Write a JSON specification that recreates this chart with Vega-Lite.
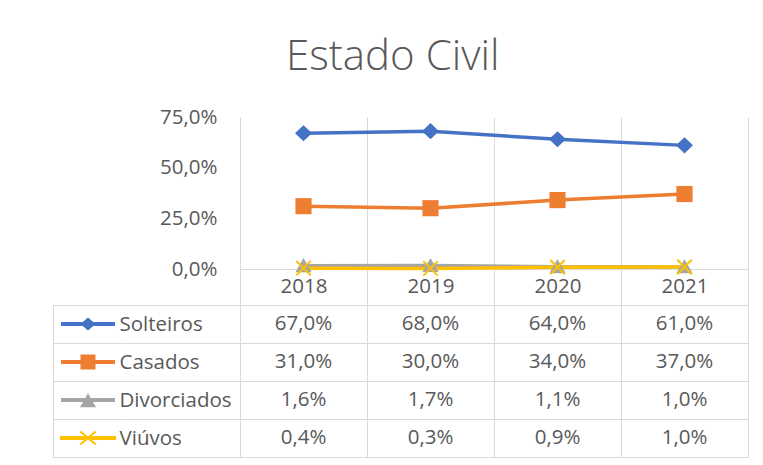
{
  "$schema": "https://vega.github.io/schema/vega-lite/v6.json",
  "padding": {"left": 53, "top": 36, "right": 5, "bottom": 5},
  "background": "white",
  "title": {"text": "Estado Civil", "anchor": "middle", "dx": -8, "fontSize": 42, "font": "Open Sans", "fontWeight": 300, "color": "#595959", "baseline": "alphabetic", "offset": -5},
  "datasets": {
    "dados": [
      {"ano": "2018", "serie": "Solteiros", "valor": 0.67},
      {"ano": "2019", "serie": "Solteiros", "valor": 0.68},
      {"ano": "2020", "serie": "Solteiros", "valor": 0.64},
      {"ano": "2021", "serie": "Solteiros", "valor": 0.61},
      {"ano": "2018", "serie": "Casados", "valor": 0.31},
      {"ano": "2019", "serie": "Casados", "valor": 0.30},
      {"ano": "2020", "serie": "Casados", "valor": 0.34},
      {"ano": "2021", "serie": "Casados", "valor": 0.37},
      {"ano": "2018", "serie": "Divorciados", "valor": 0.016},
      {"ano": "2019", "serie": "Divorciados", "valor": 0.017},
      {"ano": "2020", "serie": "Divorciados", "valor": 0.011},
      {"ano": "2021", "serie": "Divorciados", "valor": 0.010},
      {"ano": "2018", "serie": "Viúvos", "valor": 0.004},
      {"ano": "2019", "serie": "Viúvos", "valor": 0.003},
      {"ano": "2020", "serie": "Viúvos", "valor": 0.009},
      {"ano": "2021", "serie": "Viúvos", "valor": 0.010}
    ],
    "series": [
      {"serie": "Solteiros"},
      {"serie": "Casados"},
      {"serie": "Divorciados"},
      {"serie": "Viúvos"}
    ]
  },
  "config": {
    "locale": {"number": {"decimal": ",", "thousands": ".", "grouping": [3], "currency": ["R$", ""]}},
    "view": {"stroke": null},
    "font": "Open Sans",
    "axis": {"gridColor": "#d9d9d9", "domainColor": "#d9d9d9", "tickColor": "#d9d9d9", "labelColor": "#595959", "labelFont": "Open Sans", "labelFontSize": 20.5, "title": null, "gridWidth": 1, "domainWidth": 1, "tickWidth": 1}
  },
  "resolve": {"scale": {"shape": "independent", "x": "independent", "y": "independent", "color": "independent", "fill": "independent", "stroke": "independent"}},
  "columns": 3,
  "spacing": {"row": 36, "column": 0},
  "bounds": "flush",
  "align": "each",
  "concat": [
    {"width": 70, "height": 152, "data": {"values": []}, "mark": "point"},
    {"width": 117, "height": 152, "data": {"values": []}, "mark": "point"},
    {
      "width": 508,
      "height": 152,
      "data": {"name": "dados"},
      "encoding": {
        "x": {"field": "ano", "type": "ordinal", "scale": {"type": "band", "paddingInner": 0, "paddingOuter": 0},
              "axis": {"grid": true, "tickBand": "extent", "ticks": true, "tickSize": 36, "domain": true, "labelBaseline": "middle", "labelPadding": -19, "labelAngle": 0}},
        "y": {"field": "valor", "type": "quantitative", "scale": {"domain": [0, 0.75], "nice": false},
              "axis": {"values": [0, 0.25, 0.5, 0.75], "format": ".1%", "grid": false, "ticks": false, "tickSize": 0, "domain": false, "labelPadding": 23, "labelBaseline": "middle"}}
      },
      "layer": [
        {
          "mark": {"type": "line", "strokeWidth": 3.5, "strokeJoin": "round", "strokeCap": "round"},
          "encoding": {
            "color": {"field": "serie", "type": "nominal",
                      "scale": {"domain": ["Solteiros", "Casados", "Divorciados", "Viúvos"], "range": ["#4472c4", "#ed7d31", "#a5a5a5", "#ffc000"]},
                      "legend": null}
          }
        },
        {
          "mark": {"type": "point", "filled": true, "opacity": 1, "size": 289},
          "encoding": {
            "shape": {"field": "serie", "type": "nominal",
                      "scale": {"domain": ["Solteiros", "Casados", "Divorciados", "Viúvos"],
                                "range": ["M0,-0.95L1,0L0,0.95L-1,0Z", "M-0.95,-0.95H0.95V0.95H-0.95Z", "M0,-0.9L0.95,0.75L-0.95,0.75Z", "M-0.85,-0.85L0.85,0.85M-0.85,0.85L0.85,-0.85"]},
                      "legend": null},
            "fill": {"field": "serie", "type": "nominal",
                     "scale": {"domain": ["Solteiros", "Casados", "Divorciados", "Viúvos"], "range": ["#4472c4", "#ed7d31", "#a5a5a5", "#ffc000"]},
                     "legend": null},
            "stroke": {"field": "serie", "type": "nominal",
                       "scale": {"domain": ["Solteiros", "Casados", "Divorciados", "Viúvos"], "range": ["#4472c4", "#ed7d31", "#a5a5a5", "#ffc000"]},
                       "legend": null},
            "strokeWidth": {"condition": {"test": "datum.serie === 'Viúvos'", "value": 2}, "value": 0}
          }
        }
      ]
    },
    {
      "width": 70,
      "height": 152,
      "data": {"name": "series"},
      "mark": {"type": "point", "filled": true, "opacity": 1, "size": 2916},
      "encoding": {
        "y": {"field": "serie", "type": "nominal", "sort": ["Solteiros", "Casados", "Divorciados", "Viúvos"],
              "scale": {"type": "band", "paddingInner": 0, "paddingOuter": 0},
              "axis": {"grid": true, "tickBand": "extent", "ticks": false, "labels": false, "domain": true}},
        "shape": {"field": "serie", "type": "nominal",
                  "scale": {"domain": ["Solteiros", "Casados", "Divorciados", "Viúvos"],
                            "range": ["M-1,-0.074H1V0.074H-1ZM0,-0.24L0.278,0L0,0.24L-0.278,0Z", "M-1,-0.074H1V0.074H-1ZM-0.278,-0.278H0.278V0.278H-0.278Z", "M-1,-0.074H1V0.074H-1ZM0,-0.25L0.3,0.27L-0.3,0.27Z", "M-1,-0.037H1V0.037H-1ZM-0.28,-0.24L0.28,0.24M-0.28,0.24L0.28,-0.24"]},
                  "legend": null},
        "fill": {"field": "serie", "type": "nominal",
                 "scale": {"domain": ["Solteiros", "Casados", "Divorciados", "Viúvos"], "range": ["#4472c4", "#ed7d31", "#a5a5a5", "#ffc000"]},
                 "legend": null},
        "stroke": {"field": "serie", "type": "nominal",
                   "scale": {"domain": ["Solteiros", "Casados", "Divorciados", "Viúvos"], "range": ["#4472c4", "#ed7d31", "#a5a5a5", "#ffc000"]},
                   "legend": null},
        "strokeWidth": {"condition": {"test": "datum.serie === 'Viúvos'", "value": 2}, "value": 0}
      }
    },
    {
      "width": 117,
      "height": 152,
      "data": {"name": "series"},
      "mark": {"type": "point", "opacity": 0},
      "encoding": {
        "y": {"field": "serie", "type": "nominal", "sort": ["Solteiros", "Casados", "Divorciados", "Viúvos"],
              "scale": {"type": "band", "paddingInner": 0, "paddingOuter": 0},
              "axis": {"grid": true, "tickBand": "extent", "ticks": false, "tickSize": 0, "domain": false, "labels": true, "labelAlign": "left", "labelPadding": 4, "labelBaseline": "middle"}}
      }
    },
    {
      "width": 508,
      "height": 152,
      "data": {"name": "dados"},
      "mark": {"type": "text", "fontSize": 20.5, "color": "#595959", "font": "Open Sans"},
      "encoding": {
        "x": {"field": "ano", "type": "ordinal", "scale": {"type": "band", "paddingInner": 0, "paddingOuter": 0},
              "axis": {"grid": true, "tickBand": "extent", "ticks": false, "labels": false, "domain": false}},
        "y": {"field": "serie", "type": "nominal", "sort": ["Solteiros", "Casados", "Divorciados", "Viúvos"],
              "scale": {"type": "band", "paddingInner": 0, "paddingOuter": 0},
              "axis": {"grid": true, "tickBand": "extent", "ticks": false, "labels": false, "domain": false}},
        "text": {"field": "valor", "type": "quantitative", "format": ".1%"}
      }
    }
  ]
}
